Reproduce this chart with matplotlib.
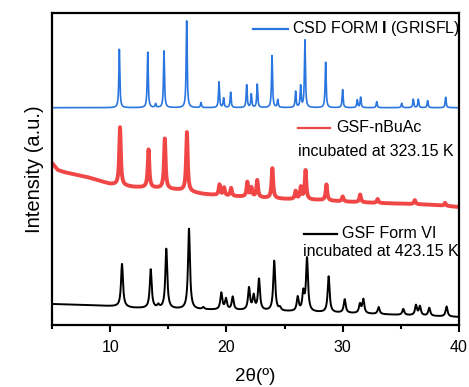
import numpy as np
import matplotlib
matplotlib.use("Agg")
import matplotlib.pyplot as plt
from matplotlib.ticker import MultipleLocator

plt.rcParams['font.family'] = ['Liberation Sans', 'DejaVu Sans']
plt.rcParams['mathtext.fontset'] = 'custom'
plt.rcParams['mathtext.bf'] = 'Liberation Sans:bold'
plt.rcParams['mathtext.rm'] = 'Liberation Sans'

# ---- data (intensity in arbitrary units) ----
blue_pos = [10.79, 13.23, 13.91, 14.63, 16.58, 17.81, 19.36, 19.76, 20.36, 21.74,
            22.14, 22.65, 23.92, 24.41, 25.95, 26.38, 26.75, 28.53, 29.99, 31.25,
            31.54, 32.92, 35.07, 36.07, 36.5, 37.3, 38.85]
blue_h = [58.4, 55.4, 3.7, 56.7, 86.7, 5.0, 25.7, 9.4, 15.4, 22.7,
          13.4, 23.4, 52.0, 7.7, 16.0, 21.4, 67.4, 45.4, 18.0, 7.7,
          10.4, 6.0, 4.4, 8.4, 8.4, 7.0, 10.4]
blue_base = 217.3

red_pos = [10.85, 13.3, 14.7, 16.6, 19.4, 19.8, 20.4, 21.8, 22.15, 22.65,
           23.95, 25.95, 26.4, 26.8, 28.6, 30.0, 31.5, 33.0, 36.2, 38.8]
red_h = [58, 38, 50, 59, 10.7, 8, 8, 14.6, 9, 17,
         30, 8, 12, 29, 16, 5, 7.7, 4, 4, 3]
red_bg_x = [5, 5.5, 6, 8, 10, 12, 14, 16, 18, 20, 22, 25, 28, 30, 33, 36, 38, 40]
red_bg_y = [162, 155, 153, 148, 141, 138, 137, 135, 131, 129, 128, 126, 125, 123.5, 122, 121, 120, 118]

black_pos = [11.02, 13.49, 14.14, 14.83, 16.78, 18.01, 19.56, 19.96, 20.54, 21.94,
             22.34, 22.8, 24.11, 24.6, 26.13, 26.61, 26.93, 28.79, 30.17, 31.48,
             31.77, 33.09, 35.21, 36.3, 36.64, 37.44, 38.93]
black_h = [43, 38.7, 3, 59.7, 80.5, 2, 16.7, 10.7, 13, 22,
           14, 31, 50, 3, 14, 18, 53, 36, 13.5, 9,
           14, 7, 6, 10, 9, 8, 10]
black_bg_x = [5, 8, 10.5, 12, 17, 22, 25, 30, 35, 40]
black_bg_y = [21, 20, 18.5, 17, 15.5, 14.5, 13.5, 12, 10, 8]

x_ticks = [10, 20, 30, 40]

two_theta = np.linspace(5, 40, 3501)


def profile(pos, h, hw):
    y = np.zeros_like(two_theta)
    for p, a in zip(pos, h):
        y += a / (1 + ((two_theta - p) / hw) ** 2)
    return y


blue = blue_base + profile(blue_pos, blue_h, 0.05)
red = np.interp(two_theta, red_bg_x, red_bg_y) + profile(red_pos, red_h, 0.08)
black = np.interp(two_theta, black_bg_x, black_bg_y) + profile(black_pos, black_h, 0.1)

BLUE = '#2a76e0'
RED = '#f04646'

fig = plt.figure(figsize=(4.69, 3.87), dpi=100)
L, R, T, B = 52, 459, 13, 325
W, H = 469, 387
ax = fig.add_axes([L / W, (H - B) / H, (R - L) / W, (B - T) / H])

ax.plot(two_theta, blue, color=BLUE, lw=1.2)
ax.plot(two_theta, red, color=RED, lw=2.8, solid_joinstyle='round')
ax.plot(two_theta, black, color='black', lw=1.4)

ax.set_xlim(5, 40)
ax.set_ylim(0, B - T)
ax.set_yticks([])
ax.xaxis.set_major_locator(MultipleLocator(10))
ax.xaxis.set_minor_locator(MultipleLocator(5))
ax.set_xticks(x_ticks)
ax.tick_params(axis='x', which='major', length=5, width=1.5, labelsize=11.5, pad=6)
ax.tick_params(axis='x', which='minor', length=3, width=1.5)
for s in ax.spines.values():
    s.set_linewidth(1.6)

ax.set_xlabel('2θ(º)', fontsize=13.5, labelpad=9)
ax.set_ylabel('Intensity (a.u.)', fontsize=14.5, labelpad=6)


def fx(px):
    return (px - L) / (R - L)


def fy(py):
    return (B - py) / (B - T)


tr = ax.transAxes
fs = 11.5
# blue legend
ax.plot([fx(253), fx(288)], [fy(28.5), fy(28.5)], color=BLUE, lw=1.6, transform=tr, clip_on=False)
ax.text(fx(292), fy(28.5), r'CSD FORM $\mathbf{I}$ (GRISFL)', transform=tr, fontsize=fs, va='center', ha='left')
# red legend
ax.plot([fx(298), fx(330)], [fy(128), fy(128)], color=RED, lw=1.6, transform=tr)
ax.text(fx(336), fy(128), 'GSF-nBuAc', transform=tr, fontsize=fs, va='center', ha='left')
ax.text(fx(298), fy(151), 'incubated at 323.15 K', transform=tr, fontsize=fs, va='center', ha='left')
# black legend
ax.plot([fx(304), fx(337)], [fy(234), fy(234)], color='black', lw=1.6, transform=tr)
ax.text(fx(342), fy(234), 'GSF Form VI', transform=tr, fontsize=fs, va='center', ha='left')
ax.text(fx(303), fy(252), 'incubated at 423.15 K', transform=tr, fontsize=fs, va='center', ha='left')

fig.savefig('out.png', dpi=100)
